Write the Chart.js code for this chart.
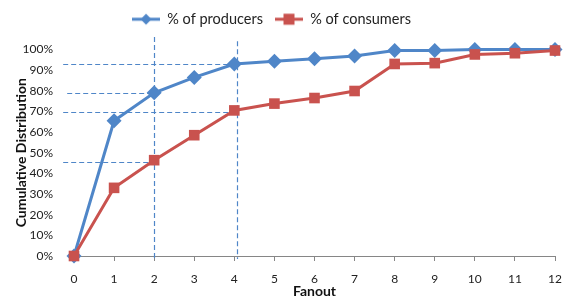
<!DOCTYPE html>
<html>
<head>
<meta charset="utf-8">
<script src="https://cdn.jsdelivr.net/npm/chart.js@4/dist/chart.umd.min.js"></script>
<style>
  html, body { margin: 0; padding: 0; background: #fff; }
  #wrap { width: 569px; height: 300px; }
</style>
</head>
<body>
<div id="wrap"><canvas id="c" width="569" height="300"></canvas></div>
<script>
// ---- data ----
const fanout = [0, 1, 2, 3, 4, 5, 6, 7, 8, 9, 10, 11, 12];
const producers = [0, 65.5, 79, 86.5, 93, 94.3, 95.5, 96.8, 99.5, 99.5, 100, 100, 100];
const consumers = [0, 33, 46.4, 58.5, 70.5, 73.8, 76.5, 79.9, 93, 93.4, 97.6, 98.2, 99.5];
const seriesNames = ['% of producers', '% of consumers'];
const yTicks = [0, 10, 20, 30, 40, 50, 60, 70, 80, 90, 100];
// guide lines (in data units)
const vGuideX = [2, 4.06];
const vGuideTop = [106, 104];
const vGuideBottom = [-1.5, -1.5];
const hGuideY = [93, 79, 69.5, 45.5];
const hGuideStart = [-0.27, -0.17, -0.27, -0.27];
const hGuideEnd = [4.06, 2, 4.06, 2];

const BLUE = '#4F86C8';
const RED = '#C9524E';
const FONT = 'Lato, "Open Sans", "DejaVu Sans", sans-serif';

// extra gap below the legend, and shift it slightly left
const LegendProto = Chart.Legend._element.prototype;
const origFit = LegendProto.fit;
LegendProto.fit = function () {
  origFit.call(this);
  if (this.isHorizontal()) this.height += 13;
};
const origDraw = LegendProto.draw;
LegendProto.draw = function () {
  const ctx = this.ctx;
  ctx.save();
  ctx.translate(-6, 0);
  origDraw.call(this);
  ctx.restore();
};

function legendIcon(color, style) {
  const c = document.createElement('canvas');
  c.width = 28; c.height = 14;
  const g = c.getContext('2d');
  g.strokeStyle = color; g.lineWidth = 3;
  g.beginPath(); g.moveTo(0, 7); g.lineTo(28, 7); g.stroke();
  g.fillStyle = color;
  if (style === 'diamond') {
    g.beginPath(); g.moveTo(14, 1.5); g.lineTo(19.5, 7); g.lineTo(14, 12.5); g.lineTo(8.5, 7); g.closePath(); g.fill();
  } else {
    g.fillRect(8.5, 1.5, 11, 11);
  }
  return c;
}

const guidePlugin = {
  id: 'guides',
  beforeDatasetsDraw(chart) {
    const {ctx, scales: {x, y}} = chart;
    ctx.save();
    ctx.strokeStyle = '#4F86C8';
    ctx.lineWidth = 1.2;
    ctx.setLineDash([5, 3]);
    vGuideX.forEach((vx, i) => {
      const px = Math.round(x.getPixelForValue(vx)) + 0.5;
      ctx.beginPath();
      ctx.moveTo(px, y.getPixelForValue(vGuideTop[i]));
      ctx.lineTo(px, y.getPixelForValue(vGuideBottom[i]));
      ctx.stroke();
    });
    hGuideY.forEach((hy, i) => {
      const py = Math.round(y.getPixelForValue(hy)) + 0.5;
      ctx.beginPath();
      ctx.moveTo(x.getPixelForValue(hGuideStart[i]), py);
      ctx.lineTo(x.getPixelForValue(hGuideEnd[i]), py);
      ctx.stroke();
    });
    ctx.restore();
  }
};

const icons = [legendIcon(BLUE, 'diamond'), legendIcon(RED, 'square')];

new Chart(document.getElementById('c'), {
  type: 'line',
  data: {
    datasets: [
      {
        label: seriesNames[0],
        data: fanout.map((f, i) => ({x: f, y: producers[i]})),
        borderColor: BLUE, backgroundColor: BLUE,
        borderWidth: 3, pointStyle: 'rectRot', pointRadius: 7.5,
        pointBorderWidth: 0, tension: 0, order: 2
      },
      {
        label: seriesNames[1],
        data: fanout.map((f, i) => ({x: f, y: consumers[i]})),
        borderColor: RED, backgroundColor: RED,
        borderWidth: 3, pointStyle: 'rect', pointRadius: 7.5,
        pointBorderWidth: 0, tension: 0, order: 1
      }
    ]
  },
  options: {
    responsive: false,
    animation: false,
    clip: false,
    layout: { padding: { top: 0, right: 14, bottom: 0, left: 0 } },
    plugins: {
      tooltip: { enabled: false },
      legend: {
        position: 'top',
        labels: {
          usePointStyle: true,
          pointStyleWidth: 28,
          boxHeight: 14,
          padding: 12,
          color: '#222',
          font: { family: FONT, size: 14.5 },
          generateLabels(chart) {
            return chart.data.datasets.map((d, i) => ({
              text: d.label, pointStyle: icons[i], fillStyle: d.borderColor,
              strokeStyle: d.borderColor, lineWidth: 0, hidden: false, datasetIndex: i,
              fontColor: '#222'
            }));
          }
        }
      }
    },
    scales: {
      x: {
        type: 'linear', min: 0, max: 12,
        afterFit(s) { s.height = 44; s.paddingRight = 0; s.paddingLeft = 0; },
        afterBuildTicks(s) { s.ticks = fanout.map(v => ({value: v})); },
        grid: { display: true, drawOnChartArea: false, drawTicks: true, tickLength: 5, color: '#868686' },
        border: { display: true, color: '#868686', width: 1 },
        ticks: { color: '#222', font: { family: FONT, size: 12 }, padding: 11, maxRotation: 0 },
        title: { display: true, text: 'Fanout', color: '#111', font: { family: FONT, size: 14, weight: 'bold' }, padding: { top: 0, bottom: 0 } }
      },
      y: {
        min: 0, max: 100,
        afterFit(s) { s.width = 74; },
        afterBuildTicks(s) { s.ticks = yTicks.map(v => ({value: v})); },
        grid: { display: false },
        border: { display: false },
        ticks: { color: '#222', font: { family: FONT, size: 12 }, padding: 13, callback: v => v + '%' },
        title: { display: true, text: 'Cumulative Distribution', color: '#111', font: { family: FONT, size: 14, weight: 'bold' }, padding: { top: 13, bottom: 0 } }
      }
    }
  },
  plugins: [guidePlugin]
});
</script>
</body>
</html>
